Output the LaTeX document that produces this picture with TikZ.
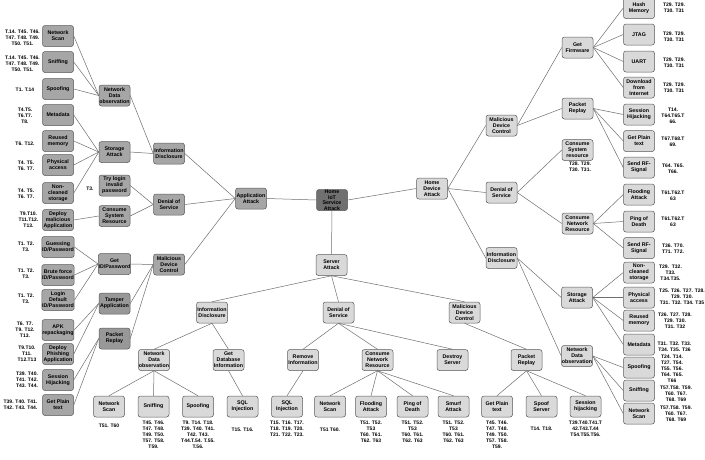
\documentclass[tikz,border=0pt]{standalone}
\usepackage{fontspec}
\setmainfont{Liberation Sans}
\definecolor{rootcol}{HTML}{707070}
\definecolor{leftcol}{HTML}{A6A6A6}
\definecolor{leftdark}{HTML}{989898}
\definecolor{lightcol}{HTML}{D9D9D9}
\definecolor{bordercol}{HTML}{5A5A5A}
\definecolor{linecol}{HTML}{6E6E6E}
\begin{document}
\begin{tikzpicture}[x=1pt,y=-1pt,
  bx/.style={draw=bordercol, line width=0.5pt, rounded corners=2.5pt, minimum width=31pt, minimum height=21pt, inner sep=0.3pt, align=center, font=\fontsize{5.3}{6}\selectfont\bfseries, text=black},
  la/.style={bx, fill=leftcol},
  ld/.style={bx, fill=leftdark},
  ll/.style={bx, fill=lightcol},
  lbl/.style={font=\fontsize{5}{6}\selectfont\bfseries, align=center, inner sep=0pt},
  ln/.style={draw=linecol, line width=0.5pt}]
\useasboundingbox (0,0) rectangle (705,459);
\fill[white] (0,0) rectangle (705,459);

% centre
\node[bx, fill=rootcol, font=\fontsize{5.3}{5.5}\selectfont\bfseries] (root) at (332,200) {Home\\IoT\\Service\\Attack};
\node[la] (app) at (251,198.5) {Application\\Attack};
\node[ll] (sa) at (331.5,265) {Server\\Attack};
\node[ll] (hda) at (432,188.5) {Home\\Device\\Attack};

% left tree
\node[la] (id1) at (169,153.5) {Information\\Disclosure};
\node[la] (dos1) at (169,204.5) {Denial of\\Service};
\node[la] (mdc1) at (169,264.5) {Malicious\\Device\\Control};

\node[la] (ndo1) at (114.5,95.5) {Network\\Data\\observation};
\node[la] (sta1) at (114.5,152) {Storage\\Attack};
\node[la] (tli) at (114.5,185.5) {Try login\\invalid\\password};
\node[la] (csr1) at (114.5,216) {Consume\\System\\Resource};
\node[la] (gid) at (114.5,264) {Get\\ID/Password};
\node[ld] (tap) at (114.5,303.5) {Tamper\\Application};
\node[ld] (pr1) at (114.5,338.5) {Packet\\Replay};

\node[la] (ns1) at (58,36) {Network\\Scan};
\node[la] (sn1) at (58,62) {Sniffing};
\node[la] (sp1) at (58,89) {Spoofing};
\node[la] (md1) at (58,115) {Metadata};
\node[la] (rm1) at (58,141) {Reused\\memory};
\node[la] (pa1) at (58,165) {Physical\\access};
\node[la] (nc1) at (58,193) {Non-\\cleaned\\storage};
\node[la] (dma) at (58,220) {Deploy\\malicious\\Application};
\node[la] (gue) at (58,247) {Guessing\\ID/Password};
\node[la] (bru) at (58,275) {Brute force\\ID/Password};
\node[la] (ldf) at (58,300) {Login\\Default\\ID/Password};
\node[la] (apk) at (58,330) {APK\\repackaging};
\node[la] (dpa) at (58,354) {Deploy\\Phishing\\Application};
\node[la] (sh1) at (58,380) {Session\\Hijacking};
\node[la] (gpt1) at (58,405) {Get Plain\\text};

\node[lbl] (tns1) at (22.5,37.5) {T.14. T45. T46.\\T47. T48. T49.\\T50. T51.};
\node[lbl] (tsn1) at (22.5,63.5) {T.14. T45. T46.\\T47. T48. T49.\\T50. T51.};
\node[lbl] (tsp1) at (25,90) {T1. T.14};
\node[lbl] (tmd1) at (25,116) {T4.T5.\\T6.T7.\\T8.};
\node[lbl] (trm1) at (25,144) {T6. T12.};
\node[lbl] (tpa1) at (26,166) {T4. T5.\\T6. T7.};
\node[lbl] (tnc1) at (26,194) {T4. T5.\\T6. T7.};
\node[lbl] (tdma) at (28.5,220) {T9.T10.\\T11.T12.\\T13.};
\node[lbl] (tgue) at (26,247) {T1. T2.\\T3.};
\node[lbl] (tbru) at (26,274) {T1. T2.\\T3.};
\node[lbl] (tldf) at (26,299) {T1. T2.\\T3.};
\node[lbl] (tapk) at (25,330) {T6. T7.\\T9. T12.\\T13.};
\node[lbl] (tdpa) at (27,354) {T9.T10.\\T11.\\T12.T13};
\node[lbl] (tsh1) at (27,380) {T39. T40.\\T41. T42.\\T43. T44.};
\node[lbl] (tgpt1) at (20.5,405) {T39. T40. T41.\\T42. T43. T44.};
\node[lbl] (ttli) at (90,189) {T3.};

% bottom tree
\node[ll] (id2) at (212,312.5) {Information\\Disclosure};
\node[ll] (dos2) at (338.5,312.5) {Denial of\\Service};
\node[ll] (mdc2) at (464.5,312.5) {Malicious\\Device\\Control};

\node[ll] (ndo2) at (154,360) {Network\\Data\\observation};
\node[ll] (gdb) at (228.5,360) {Get\\Database\\Information};
\node[ll] (rmi) at (303,360) {Remove\\Information};
\node[ll] (cnr2) at (377.5,360) {Consume\\Network\\Resource};
\node[ll] (dsv) at (452.5,360) {Destroy\\Server};
\node[ll] (pr2) at (526.5,360) {Packet\\Replay};

\node[ll] (ns2) at (109,406.5) {Network\\Scan};
\node[ll] (sn2) at (153.5,406.5) {Sniffing};
\node[ll] (sp2) at (198,406.5) {Spoofing};
\node[ll] (sql1) at (242.5,406.5) {SQL\\Injection};
\node[ll] (sql2) at (287,406.5) {SQL\\Injection};
\node[ll] (ns3) at (330,406.5) {Network\\Scan};
\node[ll] (fl2) at (371,406.5) {Flooding\\Attack};
\node[ll] (pod2) at (412.5,406.5) {Ping of\\Death};
\node[ll] (smf) at (453.5,406.5) {Smurf\\Attack};
\node[ll] (gpt2) at (497,406.5) {Get Plain\\text};
\node[ll] (ssv) at (541.5,406.5) {Spoof\\Server};
\node[ll] (sh2) at (585.5,406.5) {Session\\hijacking};

\node[lbl] (tns2) at (109,426) {T51. T60};
\node[lbl, anchor=north] (tsn2) at (153.5,421) {T45. T46.\\T47. T48.\\T49. T50.\\T57. T58.\\T59.};
\node[lbl, anchor=north] (tsp2) at (198,421) {T9. T14. T18.\\T39. T40. T41.\\T42. T43.\\T44.T.54. T.55.\\T.56.};
\node[lbl] (tsql1) at (242.5,430) {T15. T16.};
\node[lbl, anchor=north] (tsql2) at (287,421) {T15. T16. T17.\\T18. T19. T20.\\T21. T22. T23.};
\node[lbl] (tns3) at (330,430) {T51 T60.};
\node[lbl, anchor=north] (tfl2) at (371,421) {T51. T52.\\T53\\T60. T61.\\T62. T63};
\node[lbl, anchor=north] (tpod2) at (412.5,421) {T51. T52.\\T53\\T60. T61.\\T62. T63};
\node[lbl, anchor=north] (tsmf) at (453.5,421) {T51. T52.\\T53\\T60. T61.\\T62. T63};
\node[lbl, anchor=north] (tgpt2) at (497,421) {T45. T46.\\T47. T48.\\T49. T50.\\T57. T58.\\T59.};
\node[lbl] (tssv) at (541.5,429) {T14. T18.};
\node[lbl, anchor=north] (tsh2) at (585.5,421) {T39.T40.T41.T\\42.T43.T.44\\T54.T55.T56.};

% right tree
\node[ll] (mdc3) at (501.5,125.5) {Malicious\\Device\\Control};
\node[ll] (dos3) at (501.5,192.5) {Denial of\\Service};
\node[ll] (id3) at (501.5,258) {Information\\Disclosure};

\node[ll] (gfw) at (577.5,47.5) {Get\\Firmware};
\node[ll] (pr3) at (577.5,108.5) {Packet\\Replay};
\node[ll] (csr3) at (577.5,150) {Consume\\System\\resource};
\node[ll] (cnr3) at (577.5,223.5) {Consume\\Network\\Resource};
\node[ll] (sta3) at (577,297.5) {Storage\\Attack};
\node[ll] (ndo3) at (577,356) {Network\\Data\\observation};

\node[ll] (hm) at (639,8) {Hash\\Memory};
\node[ll] (jtag) at (639,34.5) {JTAG};
\node[ll] (uart) at (639,61.5) {UART};
\node[ll] (dfi) at (639,87.5) {Download\\from\\Internet};
\node[ll] (sh3) at (639,114.5) {Session\\Hijacking};
\node[ll] (gpt3) at (639,141) {Get Plain\\text};
\node[ll] (rf1) at (639,167.5) {Send RF-\\Signal};
\node[ll] (fl3) at (639,194.5) {Flooding\\Attack};
\node[ll] (pod3) at (639,221.5) {Ping of\\Death};
\node[ll] (rf2) at (639,248) {Send RF-\\Signal};
\node[ll] (nc3) at (639,272.5) {Non-\\cleaned\\storage};
\node[ll] (pa3) at (639,297.5) {Physical\\access};
\node[ll] (rm3) at (639,320.5) {Reused\\memory};
\node[ll] (md3) at (639,344.5) {Metadata};
\node[ll] (sp3) at (639,367.5) {Spoofing};
\node[ll] (sn3) at (639,390.5) {Sniffing};
\node[ll] (ns4) at (639,413.5) {Network\\Scan};

\node[lbl] (thm) at (674,8) {T29. T29.\\T30. T31};
\node[lbl] (tjtag) at (674,37) {T29. T29.\\T30. T31};
\node[lbl] (tuart) at (674,63) {T29. T29.\\T30. T31};
\node[lbl] (tdfi) at (674,88) {T29. T29.\\T30. T31};
\node[lbl] (tsh3) at (673,116) {T14.\\T64.T65.T\\66.};
\node[lbl] (tgpt3) at (673,142) {T67.T68.T\\69.};
\node[lbl] (trf1) at (673,169) {T64. T65.\\T66.};
\node[lbl] (tfl3) at (673,196) {T61.T62.T\\63};
\node[lbl] (tpod3) at (673,222) {T61.T62.T\\63};
\node[lbl] (trf2) at (673,249) {T36. T70.\\T71. T72.};
\node[lbl] (tnc3) at (670.5,273) {T29.\ \ T32.\\T33.\\T34.T35.};
\node[lbl] (tpa3) at (682,297) {T25. T26. T27. T28.\\T29. T30.\\T31. T32. T34. T35};
\node[lbl] (trm3) at (675,321) {T26. T27. T28.\\T29. T30.\\T31. T32};
\node[lbl] (tmd3) at (674.5,347) {T31. T32. T33.\\T34. T35. T36};
\node[lbl] (tsp3) at (672,369) {T24. T14.\\T27. T54.\\T55. T56.\\T64. T65.\\T66};
\node[lbl] (tsn3) at (676,394) {T57.T58. T59.\\T60. T67.\\T68. T69};
\node[lbl] (tns4) at (676,414) {T57.T58. T59.\\T60. T67.\\T68. T69};
\node[lbl, anchor=north] (tcsr3) at (580,162) {T28. T29.\\T30. T31.};

% connectors: centre
\draw[ln] (root.west) -- (app.east);
\draw[ln] (root.east) -- (hda.west);
\draw[ln] (root.south) -- (sa.north);

% left tree
\foreach \c in {id1,dos1,mdc1} \draw[ln] (\c.east) -- (app.west);
\foreach \c in {ndo1,sta1} \draw[ln] (\c.east) -- (id1.west);
\foreach \c in {tli,csr1} \draw[ln] (\c.east) -- (dos1.west);
\foreach \c in {gid,tap,pr1} \draw[ln] (\c.east) -- (mdc1.west);
\foreach \c in {ns1,sn1,sp1} \draw[ln] (\c.east) -- (ndo1.west);
\foreach \c in {md1,rm1,pa1,nc1} \draw[ln] (\c.east) -- (sta1.west);
\draw[ln] (dma.east) -- (csr1.west);
\foreach \c in {gue,bru,ldf} \draw[ln] (\c.east) -- (gid.west);
\foreach \c in {apk,dpa} \draw[ln] (\c.east) -- (tap.west);
\foreach \c in {sh1,gpt1} \draw[ln] (\c.east) -- (pr1.west);

% bottom tree
\foreach \c in {id2,dos2,mdc2} \draw[ln] (sa.south) -- (\c.north);
\foreach \c in {ndo2,gdb} \draw[ln] (id2.south) -- (\c.north);
\foreach \c in {rmi,cnr2,dsv} \draw[ln] (dos2.south) -- (\c.north);
\draw[ln] (mdc2.south) -- (pr2.north);
\foreach \c in {ns2,sn2,sp2} \draw[ln] (ndo2.south) -- (\c.north);
\draw[ln] (gdb.south) -- (sql1.north);
\draw[ln] (rmi.south) -- (sql2.north);
\foreach \c in {ns3,fl2,pod2,smf} \draw[ln] (cnr2.south) -- (\c.north);
\foreach \c in {gpt2,ssv,sh2} \draw[ln] (pr2.south) -- (\c.north);

% right tree
\foreach \c in {mdc3,dos3,id3} \draw[ln] (hda.east) -- (\c.west);
\foreach \c in {gfw,pr3} \draw[ln] (mdc3.east) -- (\c.west);
\foreach \c in {csr3,cnr3} \draw[ln] (dos3.east) -- (\c.west);
\foreach \c in {sta3,ndo3} \draw[ln] (id3.east) -- (\c.west);
\foreach \c in {hm,jtag,uart,dfi} \draw[ln] (gfw.east) -- (\c.west);
\foreach \c in {sh3,gpt3,rf1} \draw[ln] (pr3.east) -- (\c.west);
\foreach \c in {fl3,pod3,rf2} \draw[ln] (cnr3.east) -- (\c.west);
\foreach \c in {nc3,pa3,rm3,md3} \draw[ln] (sta3.east) -- (\c.west);
\foreach \c in {sp3,sn3,ns4} \draw[ln] (ndo3.east) -- (\c.west);
\end{tikzpicture}
\end{document}
